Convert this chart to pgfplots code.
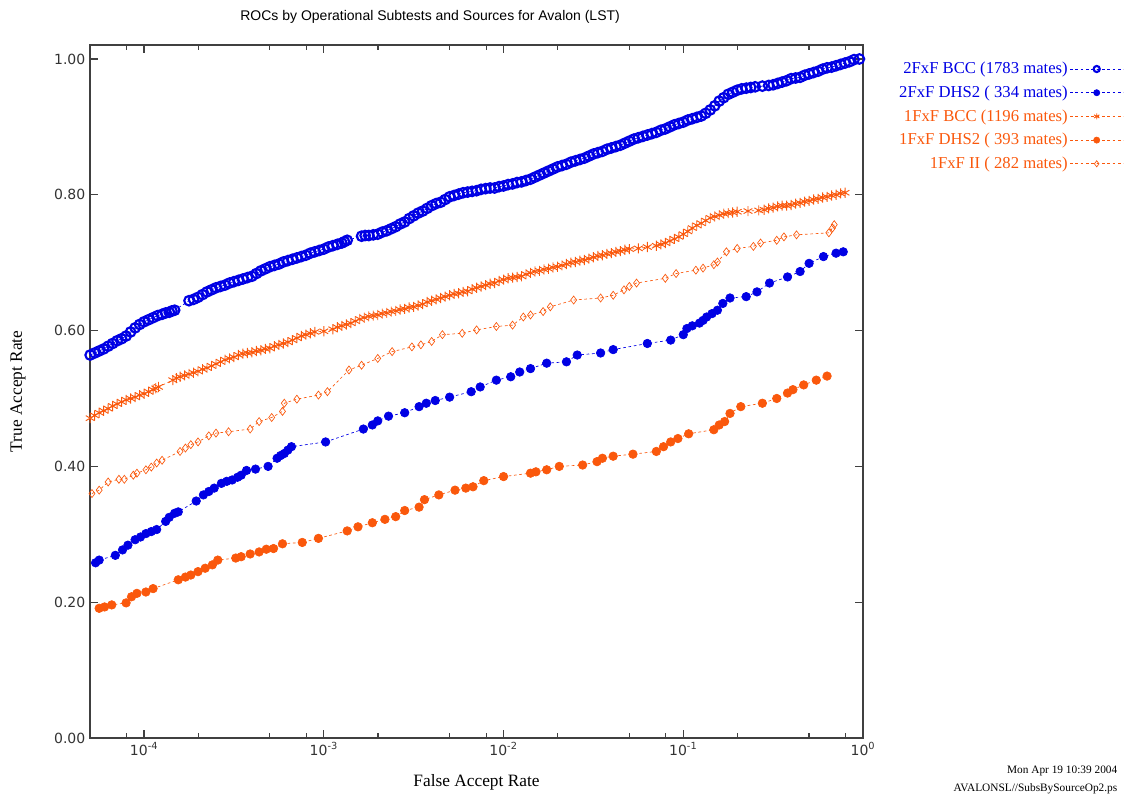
\documentclass[border=0pt]{standalone}
\usepackage{fontspec}
\setmainfont{Liberation Serif}
\setsansfont{DejaVu Sans}
\newfontfamily\titlefont{Liberation Sans}
\usepackage{pgfplots}
\pgfplotsset{compat=1.18}
\usepackage{pgfplotstable}

\definecolor{rocblue}{RGB}{0,0,228}
\definecolor{rocorange}{RGB}{250,88,12}

% column L is log10 of the false accept rate, y the true accept rate
\pgfplotstableread{
L y
-4.300 0.564
-4.275 0.567
-4.250 0.570
-4.225 0.573
-4.200 0.577
-4.175 0.581
-4.150 0.585
-4.125 0.588
-4.100 0.592
-4.075 0.598
-4.050 0.604
-4.025 0.609
-4.000 0.613
-3.975 0.616
-3.950 0.619
-3.925 0.622
-3.900 0.624
-3.880 0.626
-3.860 0.627
-3.845 0.629
-3.830 0.630
-3.750 0.644
-3.725 0.646
-3.700 0.649
-3.675 0.653
-3.650 0.657
-3.625 0.660
-3.600 0.663
-3.575 0.665
-3.550 0.667
-3.525 0.670
-3.500 0.672
-3.475 0.674
-3.450 0.676
-3.425 0.678
-3.400 0.680
-3.375 0.684
-3.350 0.688
-3.325 0.691
-3.300 0.694
-3.275 0.696
-3.250 0.698
-3.225 0.701
-3.200 0.703
-3.175 0.705
-3.150 0.707
-3.125 0.709
-3.100 0.711
-3.075 0.714
-3.050 0.716
-3.025 0.718
-3.000 0.720
-2.975 0.723
-2.950 0.725
-2.925 0.727
-2.900 0.729
-2.885 0.731
-2.870 0.733
-2.790 0.739
-2.770 0.740
-2.750 0.740
-2.725 0.741
-2.700 0.742
-2.675 0.745
-2.650 0.747
-2.625 0.750
-2.600 0.753
-2.575 0.757
-2.550 0.760
-2.525 0.765
-2.500 0.769
-2.475 0.773
-2.450 0.776
-2.425 0.780
-2.400 0.784
-2.375 0.787
-2.350 0.789
-2.325 0.793
-2.300 0.797
-2.275 0.799
-2.250 0.801
-2.225 0.803
-2.200 0.804
-2.175 0.805
-2.150 0.806
-2.125 0.808
-2.100 0.809
-2.075 0.810
-2.050 0.810
-2.025 0.812
-2.000 0.813
-1.975 0.815
-1.950 0.816
-1.925 0.818
-1.900 0.819
-1.875 0.821
-1.850 0.823
-1.825 0.826
-1.800 0.829
-1.775 0.832
-1.750 0.835
-1.725 0.838
-1.700 0.841
-1.675 0.843
-1.650 0.845
-1.625 0.848
-1.600 0.850
-1.575 0.852
-1.550 0.854
-1.525 0.857
-1.500 0.860
-1.475 0.862
-1.450 0.864
-1.425 0.867
-1.400 0.869
-1.375 0.871
-1.350 0.873
-1.325 0.876
-1.300 0.879
-1.275 0.882
-1.250 0.884
-1.225 0.886
-1.200 0.888
-1.175 0.890
-1.150 0.892
-1.125 0.895
-1.100 0.897
-1.075 0.900
-1.050 0.903
-1.025 0.905
-1.000 0.907
-0.975 0.910
-0.950 0.912
-0.925 0.914
-0.900 0.916
-0.875 0.920
-0.850 0.925
-0.825 0.931
-0.800 0.938
-0.775 0.943
-0.750 0.948
-0.725 0.951
-0.700 0.954
-0.675 0.956
-0.650 0.957
-0.625 0.958
-0.600 0.959
-0.560 0.960
-0.525 0.961
-0.500 0.962
-0.475 0.964
-0.450 0.966
-0.425 0.968
-0.400 0.971
-0.375 0.972
-0.350 0.973
-0.325 0.976
-0.300 0.978
-0.275 0.980
-0.250 0.982
-0.225 0.985
-0.200 0.987
-0.175 0.988
-0.150 0.990
-0.125 0.992
-0.100 0.994
-0.075 0.996
-0.050 0.999
-0.020 1.000
}\bcctwo

\pgfplotstableread{
L y
-4.27 0.258
-4.25 0.262
-4.16 0.269
-4.12 0.277
-4.09 0.284
-4.05 0.292
-4.02 0.296
-3.99 0.301
-3.96 0.304
-3.93 0.307
-3.88 0.319
-3.86 0.325
-3.83 0.331
-3.81 0.333
-3.71 0.349
-3.67 0.358
-3.64 0.363
-3.61 0.368
-3.57 0.375
-3.54 0.378
-3.51 0.380
-3.48 0.384
-3.46 0.387
-3.43 0.394
-3.38 0.396
-3.31 0.400
-3.26 0.412
-3.24 0.416
-3.22 0.419
-3.20 0.424
-3.18 0.429
-2.99 0.436
-2.78 0.455
-2.73 0.461
-2.70 0.467
-2.64 0.474
-2.55 0.479
-2.47 0.488
-2.43 0.493
-2.38 0.497
-2.30 0.502
-2.18 0.510
-2.13 0.517
-2.04 0.527
-1.96 0.532
-1.91 0.539
-1.85 0.544
-1.76 0.552
-1.65 0.554
-1.59 0.564
-1.46 0.567
-1.39 0.572
-1.20 0.581
-1.07 0.586
-1.00 0.594
-0.98 0.603
-0.95 0.607
-0.91 0.611
-0.89 0.615
-0.87 0.620
-0.84 0.625
-0.81 0.630
-0.78 0.640
-0.74 0.648
-0.65 0.650
-0.59 0.657
-0.52 0.670
-0.42 0.679
-0.35 0.687
-0.30 0.699
-0.22 0.709
-0.15 0.714
-0.11 0.716
}\dhstwo

\pgfplotstableread{
L y
-4.300 0.471
-4.275 0.475
-4.250 0.479
-4.225 0.482
-4.200 0.485
-4.175 0.489
-4.150 0.492
-4.125 0.495
-4.100 0.498
-4.075 0.500
-4.050 0.502
-4.025 0.505
-4.000 0.507
-3.975 0.510
-3.950 0.513
-3.935 0.515
-3.920 0.517
-3.840 0.527
-3.820 0.530
-3.800 0.532
-3.775 0.534
-3.750 0.536
-3.725 0.538
-3.700 0.540
-3.675 0.543
-3.650 0.545
-3.625 0.548
-3.600 0.551
-3.575 0.554
-3.550 0.557
-3.525 0.559
-3.500 0.561
-3.475 0.564
-3.450 0.566
-3.425 0.567
-3.400 0.568
-3.375 0.570
-3.350 0.571
-3.325 0.573
-3.300 0.574
-3.275 0.577
-3.250 0.579
-3.225 0.581
-3.200 0.583
-3.175 0.586
-3.150 0.589
-3.125 0.592
-3.100 0.594
-3.075 0.596
-3.050 0.598
-3.000 0.599
-2.950 0.602
-2.925 0.605
-2.900 0.607
-2.875 0.609
-2.850 0.611
-2.825 0.614
-2.800 0.617
-2.775 0.619
-2.750 0.621
-2.725 0.622
-2.700 0.623
-2.675 0.625
-2.650 0.626
-2.625 0.628
-2.600 0.629
-2.575 0.631
-2.550 0.632
-2.525 0.634
-2.500 0.635
-2.475 0.637
-2.450 0.639
-2.425 0.642
-2.400 0.644
-2.375 0.646
-2.350 0.648
-2.325 0.650
-2.300 0.652
-2.275 0.654
-2.250 0.655
-2.225 0.657
-2.200 0.658
-2.175 0.661
-2.150 0.663
-2.125 0.665
-2.100 0.667
-2.075 0.669
-2.050 0.670
-2.025 0.673
-2.000 0.675
-1.975 0.677
-1.950 0.678
-1.925 0.679
-1.900 0.680
-1.875 0.683
-1.850 0.685
-1.825 0.687
-1.800 0.688
-1.775 0.690
-1.750 0.691
-1.725 0.693
-1.700 0.694
-1.675 0.696
-1.650 0.698
-1.625 0.700
-1.600 0.701
-1.575 0.703
-1.550 0.704
-1.525 0.706
-1.500 0.708
-1.475 0.710
-1.450 0.711
-1.425 0.713
-1.400 0.714
-1.375 0.716
-1.350 0.717
-1.325 0.719
-1.300 0.720
-1.250 0.721
-1.200 0.723
-1.150 0.725
-1.125 0.727
-1.100 0.729
-1.075 0.732
-1.050 0.735
-1.025 0.738
-1.000 0.742
-0.975 0.746
-0.950 0.751
-0.925 0.755
-0.900 0.758
-0.875 0.762
-0.850 0.766
-0.825 0.768
-0.800 0.770
-0.775 0.772
-0.750 0.773
-0.725 0.774
-0.700 0.775
-0.640 0.776
-0.580 0.777
-0.550 0.778
-0.525 0.780
-0.500 0.781
-0.475 0.783
-0.450 0.784
-0.425 0.784
-0.400 0.785
-0.375 0.787
-0.350 0.788
-0.325 0.790
-0.300 0.791
-0.275 0.793
-0.250 0.794
-0.225 0.796
-0.200 0.797
-0.175 0.799
-0.150 0.800
-0.125 0.802
-0.100 0.803
}\bccone

\pgfplotstableread{
L y
-4.25 0.191
-4.22 0.193
-4.18 0.196
-4.10 0.199
-4.07 0.208
-4.04 0.213
-3.99 0.215
-3.95 0.220
-3.81 0.233
-3.77 0.237
-3.74 0.240
-3.70 0.245
-3.66 0.250
-3.62 0.255
-3.59 0.262
-3.49 0.265
-3.46 0.267
-3.41 0.271
-3.36 0.274
-3.32 0.278
-3.28 0.279
-3.23 0.286
-3.12 0.288
-3.03 0.294
-2.87 0.305
-2.81 0.311
-2.73 0.317
-2.66 0.322
-2.60 0.326
-2.55 0.335
-2.47 0.340
-2.44 0.351
-2.36 0.358
-2.27 0.365
-2.21 0.368
-2.17 0.370
-2.11 0.379
-2.00 0.385
-1.85 0.390
-1.82 0.392
-1.76 0.395
-1.69 0.400
-1.56 0.402
-1.48 0.407
-1.45 0.412
-1.39 0.415
-1.28 0.418
-1.15 0.422
-1.11 0.429
-1.07 0.436
-1.03 0.441
-0.97 0.448
-0.83 0.454
-0.80 0.461
-0.77 0.466
-0.74 0.478
-0.68 0.488
-0.56 0.493
-0.48 0.500
-0.42 0.508
-0.39 0.513
-0.33 0.520
-0.26 0.527
-0.20 0.533
}\dhsone

\pgfplotstableread{
L y
-4.29 0.360
-4.25 0.365
-4.20 0.377
-4.14 0.381
-4.11 0.381
-4.06 0.387
-4.04 0.390
-3.99 0.395
-3.96 0.399
-3.93 0.405
-3.90 0.409
-3.80 0.422
-3.77 0.427
-3.74 0.432
-3.70 0.436
-3.64 0.445
-3.60 0.449
-3.53 0.451
-3.41 0.455
-3.36 0.466
-3.29 0.472
-3.23 0.481
-3.22 0.493
-3.15 0.499
-3.03 0.505
-2.98 0.510
-2.86 0.542
-2.79 0.549
-2.70 0.559
-2.62 0.569
-2.51 0.576
-2.46 0.579
-2.40 0.584
-2.34 0.594
-2.23 0.596
-2.15 0.601
-2.04 0.606
-1.95 0.608
-1.89 0.620
-1.85 0.623
-1.78 0.628
-1.74 0.635
-1.61 0.645
-1.46 0.648
-1.39 0.652
-1.33 0.660
-1.30 0.665
-1.26 0.670
-1.10 0.677
-1.04 0.684
-0.93 0.689
-0.89 0.692
-0.83 0.697
-0.81 0.701
-0.76 0.716
-0.70 0.721
-0.61 0.724
-0.57 0.729
-0.48 0.733
-0.44 0.738
-0.37 0.741
-0.19 0.744
-0.17 0.751
-0.16 0.756
}\iione

\begin{document}
\begin{tikzpicture}
\useasboundingbox (-67.5pt,-45pt) rectangle (777pt,553.5pt);
\begin{axis}[
  at={(0pt,0pt)}, anchor=south west,
  width=579.75pt, height=519.75pt, scale only axis,
  xmin=-4.301, xmax=0, ymin=0, ymax=1.0206,
  axis line style={draw=black!75, line width=0.9pt},
  tick style={draw=black!75, line width=0.9pt},
  tick align=inside,
  major tick length=6pt, minor tick length=3.5pt,
  xtick={-4,-3,-2,-1,0},
  xticklabels={10\textsuperscript{-4},10\textsuperscript{-3},10\textsuperscript{-2},10\textsuperscript{-1},10\textsuperscript{0}},
  minor xtick={-4.097,-3.699,-3.301,-3.097,-2.699,-2.301,-2.097,-1.699,-1.301,-1.097,-0.699,-0.301,-0.097},
  ytick={0,0.2,0.4,0.6,0.8,1.0},
  /pgf/number format/assume math mode=true,
  yticklabel style={/pgf/number format/.cd, fixed, fixed zerofill, precision=2},
  ticklabel style={font=\sffamily\fontsize{10.5}{12}\selectfont, text=black!80},
  title={ROCs by Operational Subtests and Sources for Avalon (LST)},
  title style={font=\titlefont\fontsize{10.5}{12}\selectfont, at={(axis description cs:0.44,1.029)}, anchor=center, yshift=0pt},
  xlabel={False Accept Rate},
  x label style={font=\fontsize{13}{15}\selectfont, at={(axis description cs:0.5,-0.0635)}, anchor=center},
  ylabel={True Accept Rate},
  y label style={font=\fontsize{13}{15}\selectfont, at={(axis description cs:-0.0931,0.5)}, anchor=center},
  legend style={at={(1.3376,0.9784)}, anchor=north east, draw=none, fill=none,
    font=\fontsize{12.5}{14}\selectfont, row sep=4.6pt, inner sep=0pt, nodes={inner sep=1.5pt}},
  legend cell align=right,
  legend plot pos=right,
  legend image code/.code={\draw[mark repeat=2,mark phase=2,#1] plot coordinates {(0pt,0pt) (20pt,0pt) (40pt,0pt)};},
  legend image post style={mark size=2.3pt},
  every axis plot/.append style={line width=0.5pt, dash pattern=on 2pt off 2pt},
]
\addplot[rocblue, mark=o, mark size=3.6pt, mark options={solid, line width=1.6pt}] table[x=L, y=y] {\bcctwo};
\addlegendentry{\textcolor{rocblue}{2FxF BCC (1783 mates)}}
\addplot[rocblue, mark=*, mark size=3.2pt, mark options={solid}] table[x=L, y=y] {\dhstwo};
\addlegendentry{\textcolor{rocblue}{2FxF DHS2 ( 334 mates)}}
\addplot[rocorange, mark=asterisk, mark size=3.8pt, mark options={solid, line width=0.7pt}] table[x=L, y=y] {\bccone};
\addlegendentry{\textcolor{rocorange}{1FxF BCC (1196 mates)}}
\addplot[rocorange, mark=*, mark size=3.2pt, mark options={solid}] table[x=L, y=y] {\dhsone};
\addlegendentry{\textcolor{rocorange}{1FxF DHS2 ( 393 mates)}}
\addplot[rocorange, mark=diamond, mark size=3pt, mark options={solid, line width=0.5pt}] table[x=L, y=y] {\iione};
\addlegendentry{\textcolor{rocorange}{1FxF II ( 282 mates)}}
\end{axis}
\node[anchor=east, font=\fontsize{8.5}{10}\selectfont] at (774pt,-24.75pt) {Mon Apr 19 10:39 2004};
\node[anchor=east, font=\fontsize{8.5}{10}\selectfont] at (774pt,-38.25pt) {AVALONSL//SubsBySourceOp2.ps};
\end{tikzpicture}
\end{document}
